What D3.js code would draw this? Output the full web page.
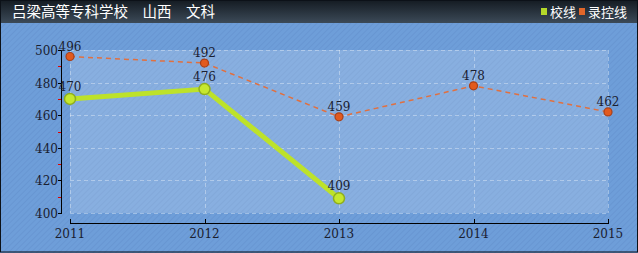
<!DOCTYPE html>
<html>
<head>
<meta charset="utf-8">
<script src="https://cdn.jsdelivr.net/npm/d3@7"></script>
<style>
  body { margin: 0; background: #fff; }
  svg text { font-family: "DejaVu Serif", "Liberation Serif", serif; }
</style>
</head>
<body>
<div id="chart"></div>
<script>
// chart data
var years = [2011, 2012, 2013, 2014, 2015];
var schoolLine = [470, 476, 409];           // 校线
var controlLine = [496, 492, 459, 478, 462]; // 录控线
var yTicks = [400, 420, 440, 460, 480, 500];
var yMinorTicks = [410, 430, 450, 470, 490];
var title = "吕梁高等专科学校\u3000山西\u3000文科";
var legendNames = ["校线", "录控线"];

var W = 638, H = 253;
var plot = {left: 70, right: 608, top: 50, bottom: 213};

var svg = d3.select("#chart").append("svg")
    .attr("width", W)
    .attr("height", H);

var defs = svg.append("defs");
var grad = defs.append("linearGradient")
    .attr("id", "titleGrad")
    .attr("x1", 0).attr("y1", 0).attr("x2", 0).attr("y2", 1);
grad.append("stop").attr("offset", "0%").attr("stop-color", "#141b22");
grad.append("stop").attr("offset", "100%").attr("stop-color", "#3c4a58");

var hatch = defs.append("pattern")
    .attr("id", "hatch")
    .attr("width", 4).attr("height", 4)
    .attr("patternUnits", "userSpaceOnUse")
    .attr("patternTransform", "rotate(45)");
hatch.append("rect").attr("width", 4).attr("height", 4).attr("fill", "#6e9ed9");
hatch.append("rect").attr("width", 1).attr("height", 4).attr("fill", "#6896d2");

// Background and frame
svg.append("rect")
    .attr("x", 0).attr("y", 0).attr("width", W).attr("height", H)
    .attr("fill", "url(#hatch)");
svg.append("rect")
    .attr("x", 0).attr("y", 0).attr("width", W).attr("height", 23)
    .attr("fill", "url(#titleGrad)");
svg.append("rect")
    .attr("x", 0.5).attr("y", 0.5).attr("width", W - 1).attr("height", H - 1.5)
    .attr("fill", "none").attr("stroke", "#0c1118");

svg.append("text")
    .attr("x", 12).attr("y", 17)
    .attr("fill", "#fff")
    .style("font-family", "'Noto Sans CJK SC', sans-serif")
    .style("font-size", "14.5px")
    .text(title);

// Legend
var legendColors = ["#b4d82a", "#e0662a"];
var legendX = [541, 579];
legendNames.forEach(function(name, i) {
    svg.append("rect")
        .attr("x", legendX[i]).attr("y", 8)
        .attr("width", 6).attr("height", 7)
        .attr("fill", legendColors[i]);
    svg.append("text")
        .attr("x", legendX[i] + 9).attr("y", 17)
        .attr("fill", "#fff")
        .style("font-family", "'Noto Sans CJK SC', sans-serif")
        .style("font-size", "13px")
        .text(name);
});

// Scales
var x = d3.scalePoint()
    .domain(years)
    .range([plot.left, plot.right]);
var y = d3.scaleLinear()
    .domain([400, 500])
    .range([plot.bottom, plot.top]);

// Plot area
svg.append("rect")
    .attr("x", plot.left).attr("y", plot.top)
    .attr("width", plot.right - plot.left).attr("height", plot.bottom - plot.top)
    .attr("fill", "#ffffff").attr("fill-opacity", 0.18);

svg.selectAll("line.hgrid")
    .data(yTicks)
    .enter().append("line")
    .attr("class", "hgrid")
    .attr("x1", plot.left).attr("x2", plot.right)
    .attr("y1", function(d) { return Math.round(y(d)) + 0.5; })
    .attr("y2", function(d) { return Math.round(y(d)) + 0.5; })
    .attr("stroke", "#ffffff").attr("stroke-opacity", 0.35)
    .attr("stroke-dasharray", "4,3");

svg.selectAll("line.vgrid")
    .data(years)
    .enter().append("line")
    .attr("class", "vgrid")
    .attr("x1", function(d) { return Math.round(x(d)) + 0.5; })
    .attr("x2", function(d) { return Math.round(x(d)) + 0.5; })
    .attr("y1", plot.top).attr("y2", plot.bottom)
    .attr("stroke", "#ffffff").attr("stroke-opacity", 0.35)
    .attr("stroke-dasharray", "4,3");

// Y axis
var yAxis = svg.append("g")
    .attr("transform", "translate(" + 61 + ",0)");
yAxis.append("line")
    .attr("x1", 0.5).attr("x2", 0.5)
    .attr("y1", plot.top).attr("y2", plot.bottom + 1)
    .attr("stroke", "#000");
yAxis.selectAll("line.major")
    .data(yTicks)
    .enter().append("line")
    .attr("class", "major")
    .attr("x1", -3).attr("x2", 0.5)
    .attr("y1", function(d) { return Math.round(y(d)) + 0.5; })
    .attr("y2", function(d) { return Math.round(y(d)) + 0.5; })
    .attr("stroke", "#000");
yAxis.selectAll("line.minor")
    .data(yMinorTicks)
    .enter().append("line")
    .attr("class", "minor")
    .attr("x1", -3).attr("x2", 0)
    .attr("y1", function(d) { return Math.round(y(d)) + 0.5; })
    .attr("y2", function(d) { return Math.round(y(d)) + 0.5; })
    .attr("stroke", "#e00000");
yAxis.selectAll("text")
    .data(yTicks)
    .enter().append("text")
    .attr("x", -3)
    .attr("y", function(d) { return y(d) + 5; })
    .attr("text-anchor", "end")
    .attr("fill", "#1a2030")
    .style("font-size", "12px")
    .text(function(d) { return d; });

// X axis
var xAxisY = 223;
svg.append("line")
    .attr("x1", plot.left).attr("x2", plot.right + 1)
    .attr("y1", xAxisY + 0.5).attr("y2", xAxisY + 0.5)
    .attr("stroke", "#000");
svg.selectAll("line.xtick")
    .data(years)
    .enter().append("line")
    .attr("class", "xtick")
    .attr("x1", function(d) { return Math.round(x(d)) + 0.5; })
    .attr("x2", function(d) { return Math.round(x(d)) + 0.5; })
    .attr("y1", xAxisY - 4).attr("y2", xAxisY)
    .attr("stroke", "#000");
svg.selectAll("text.xlabel")
    .data(years)
    .enter().append("text")
    .attr("class", "xlabel")
    .attr("x", function(d) { return x(d); })
    .attr("y", 238)
    .attr("text-anchor", "middle")
    .attr("fill", "#1a2030")
    .style("font-size", "12px")
    .text(function(d) { return d; });

// Lines
var ctrlData = controlLine.map(function(v, i) { return {year: years[i], value: v}; });
var schoolData = schoolLine.map(function(v, i) { return {year: years[i], value: v}; });
var line = d3.line()
    .x(function(d) { return x(d.year); })
    .y(function(d) { return y(d.value); });

svg.append("path")
    .datum(ctrlData)
    .attr("d", line)
    .attr("fill", "none")
    .attr("stroke", "#e07040")
    .attr("stroke-width", 1.5)
    .attr("stroke-dasharray", "5,4");

svg.append("path")
    .datum(schoolData)
    .attr("d", line)
    .attr("fill", "none")
    .attr("stroke", "#bde22a")
    .attr("stroke-width", 5)
    .attr("stroke-linejoin", "round");

// Markers
svg.selectAll("circle.ctrl")
    .data(ctrlData)
    .enter().append("circle")
    .attr("class", "ctrl")
    .attr("cx", function(d) { return x(d.year); })
    .attr("cy", function(d) { return y(d.value); })
    .attr("r", 4)
    .attr("fill", "#e25a1e")
    .attr("stroke", "#a8401a")
    .attr("stroke-width", 1.2);

svg.selectAll("circle.school")
    .data(schoolData)
    .enter().append("circle")
    .attr("class", "school")
    .attr("cx", function(d) { return x(d.year); })
    .attr("cy", function(d) { return y(d.value); })
    .attr("r", 5.5)
    .attr("fill", "#c6e82e")
    .attr("stroke", "#8fae1e")
    .attr("stroke-width", 1.5);

// Value labels
svg.selectAll("text.ctrlLabel")
    .data(ctrlData)
    .enter().append("text")
    .attr("class", "ctrlLabel")
    .attr("x", function(d) { return x(d.year); })
    .attr("y", function(d) { return y(d.value) - 6; })
    .attr("text-anchor", "middle")
    .attr("fill", "#1a2030")
    .style("font-size", "12px")
    .text(function(d) { return d.value; });

svg.selectAll("text.schoolLabel")
    .data(schoolData)
    .enter().append("text")
    .attr("class", "schoolLabel")
    .attr("x", function(d) { return x(d.year); })
    .attr("y", function(d) { return y(d.value) - 8; })
    .attr("text-anchor", "middle")
    .attr("fill", "#1a2030")
    .style("font-size", "12px")
    .text(function(d) { return d.value; });
</script>
</body>
</html>
